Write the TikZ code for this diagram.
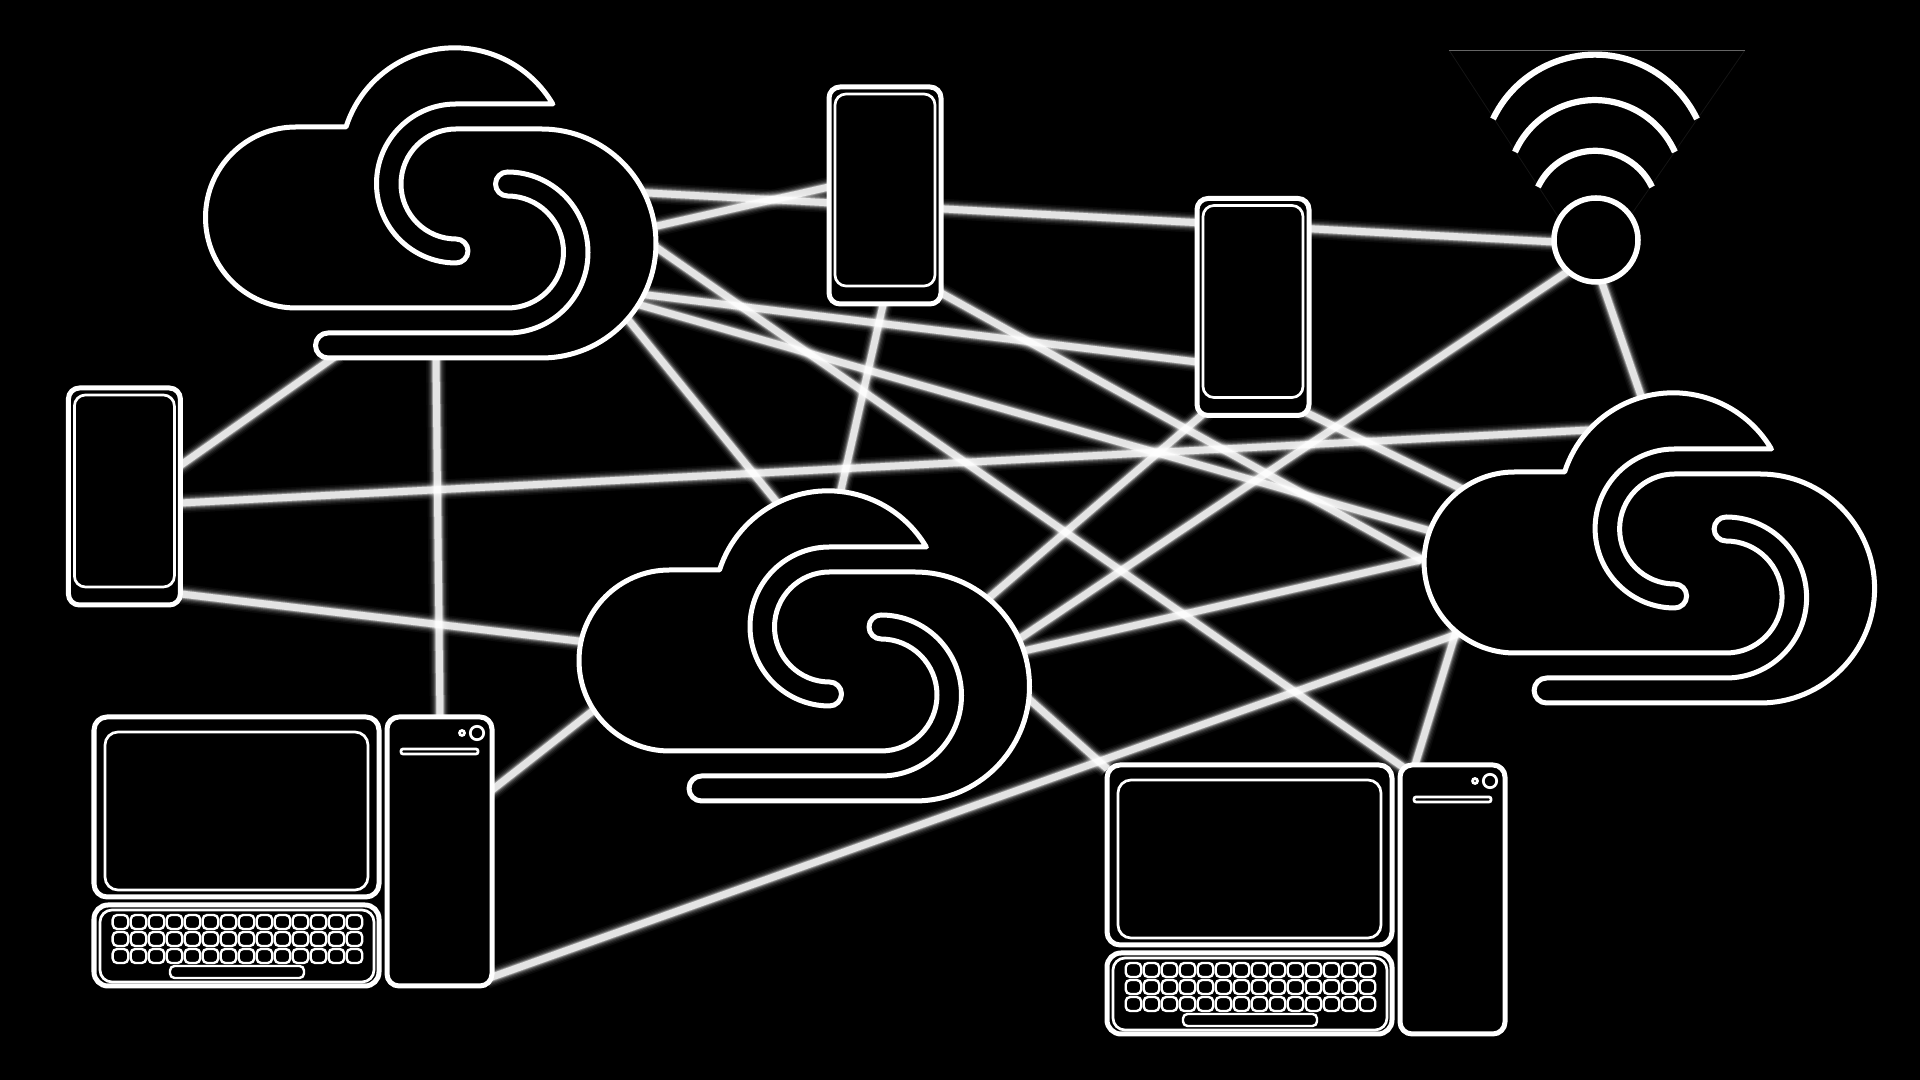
\documentclass[tikz,border=0pt]{standalone}
\tikzset{
  devout/.style={draw=white,fill=black,line width=0.05cm,line join=round},
  devin/.style={draw=white,line width=0.027cm},
  keycap/.style={draw=white,line width=0.024cm,rounded corners=0.045cm},
  wifiarc/.style={draw=white,line width=0.062cm},
  faintline/.style={draw=black!92!white,line width=0.008cm},
  toptrace/.style={draw=black!60!white,line width=0.008cm},
}
\newcommand{\cloudshape}{%
  \path[devout] (346,127) arc[start angle=197.8,end angle=329.4,radius=114] -- (553,104) -- (456,104)
    arc[start angle=270,end angle=90,radius=79.5]
    arc[start angle=90,end angle=-90,radius=12]
    arc[start angle=90,end angle=270,radius=55]
    -- (541.5,129)
    arc[start angle=-90,end angle=90,radius=114.5]
    -- (328,358)
    arc[start angle=90,end angle=270,radius=12.5]
    -- (507.5,333)
    arc[start angle=90,end angle=-90,radius=80.5]
    arc[start angle=-90,end angle=-270,radius=12]
    arc[start angle=-90,end angle=90,radius=56]
    -- (296,308)
    arc[start angle=90,end angle=270,radius=90.5]
    -- cycle;}
\newcommand{\phoneshape}{%
  \path[devout,rounded corners=0.11cm] (829,87) rectangle (941,304);
  \path[devin,rounded corners=0.11cm] (835,94) rectangle (935,286);}
\newcommand{\pcshape}{%
  \path[devout,rounded corners=0.13cm] (94,717) rectangle (379,897);
  \path[devin,rounded corners=0.13cm] (105,732) rectangle (368,890);
  \path[devout,rounded corners=0.14cm] (94,905) rectangle (379,986);
  \path[devin,rounded corners=0.12cm] (100,910) rectangle (374,982);
  \foreach \c in {0,...,13}{
    \foreach \r in {915,932,949}{
      \path[keycap] ({112.7+18*\c},\r) rectangle ({128.2+18*\c},\r+14);
    }
  }
  \path[keycap] (170,966) rectangle (304,978);
  \path[devout,rounded corners=0.12cm] (387,717) rectangle (492,986);
  \path[devin,rounded corners=0.02cm] (401,749) rectangle (478,754);
  \path[devin] (477,733) circle[radius=6.7];
  \path[devin] (462,733) circle[radius=2.5];}
\begin{document}
\begin{tikzpicture}[x=0.01cm,y=-0.01cm]
\useasboundingbox (0,0) rectangle (1920,1080);
\fill[black] (0,0) rectangle (1920,1080);
% ports
\foreach \n/\x/\y in {
 cAa/648/193,cAb/657/226,cAc/647/295,cAd/640/305,cAe/660/250,cAf/630/322,cAg/436/360,cAh/333/358,
 pAa/829/187,pAb/883/305,pAc/941/293,
 pBa/1197/362,pBb/1202/415,pBc/1305/412,
 pCa/181/465,pCb/181/503,pCc/181/594,
 cBa/775/500,cBb/841/490,cBc/578/641,cBd/594/710,cBe/990/597,cBf/1022/637,cBg/1028/650,cBh/1030/700,
 cCa/1427/530,cCb/1417/557,cCc/1590/430,cCd/1455/635,cCe/1420/560,cCf/1460/488,cCg/1640/393,
 tAa/440/718,tAb/492/790,tAc/492/977,tBa/1400/765,tBb/1415/765,lBa/1103/765,
 wFa/1555/242,wFb/1570/270,wFc/1601/280}{\coordinate (\n) at (\x,\y);}
% connectors, glow passes
\foreach \w/\o in {0.2cm/0.04,0.17cm/0.06,0.145cm/0.09,0.12cm/0.13,0.1cm/0.2,0.085cm/0.3,0.07cm/0.75}{
 \foreach \a/\b in {cAa/wFa,cAb/pAa,cAc/pBa,cAd/cCa,cAe/tBa,cAf/cBa,cAg/tAa,cAh/pCa,
   pAb/cBb,pAc/cCb,pCb/cCc,pCc/cBc,tAb/cBd,tAc/cCd,cBe/pBb,cBf/wFb,cBg/cCe,cBh/lBa,
   pBc/cCf,wFc/cCg,cCd/tBb}{
   \draw[white,line width=\w,draw opacity=\o,shorten <=-0.06cm,shorten >=-0.06cm] (\a) -- (\b);
 }
}
% wifi
\path[faintline] (1449,50) -- (1593,270) -- (1745,50);
\path[toptrace] (1449,50) -- (1745,50);
\path[wifiarc] (1493,119) arc[start angle=205.5,end angle=334.5,radius=113];
\path[wifiarc] (1515,152) arc[start angle=204,end angle=336,radius=87.5];
\path[wifiarc] (1538,187) arc[start angle=205.2,end angle=334.8,radius=63];
\path[devout,line width=0.055cm] (1596,240) circle[radius=42];
% devices
\cloudshape
\begin{scope}[shift={(373.5,443)}]\cloudshape\end{scope}
\begin{scope}[shift={(1218.6,345)}]\cloudshape\end{scope}
\phoneshape
\begin{scope}[shift={(368,111.5)}]\phoneshape\end{scope}
\begin{scope}[shift={(-760.6,301)}]\phoneshape\end{scope}
\pcshape
\begin{scope}[shift={(1013,48)}]\pcshape\end{scope}
\end{tikzpicture}
\end{document}
